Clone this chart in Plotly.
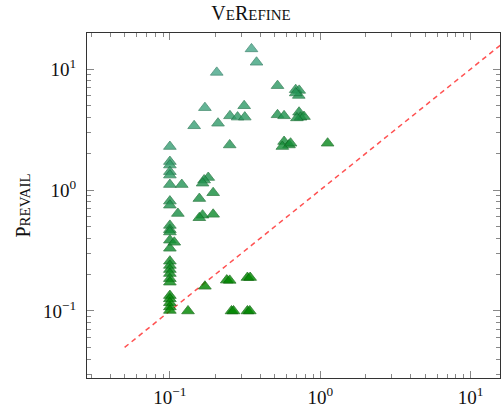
import numpy as np
import plotly.graph_objects as go

# VeRefine runtime (x) vs Prevail runtime (y), seconds
x_vals = [
    0.1, 0.1, 0.1, 0.1, 0.1, 0.1, 0.1, 0.1, 0.1, 0.1, 0.1, 0.1, 0.1,
    0.1, 0.1, 0.1, 0.1, 0.1, 0.1, 0.1, 0.1, 0.1, 0.1, 0.1,
    0.12, 0.113, 0.107, 0.145, 0.171, 0.209, 0.205, 0.25,
    0.18, 0.169, 0.165, 0.194, 0.157, 0.165, 0.157, 0.194,
    0.171, 0.239, 0.25, 0.328, 0.342, 0.132, 0.257, 0.265, 0.328, 0.34,
    0.349, 0.377, 0.52, 0.687, 0.725, 0.72, 0.687, 0.312,
    0.251, 0.282, 0.315, 0.52, 0.575, 0.723, 0.74, 0.78, 0.70,
    0.575, 0.62, 0.56, 0.635, 1.12,
]
y_vals = [
    2.29, 1.72, 1.61, 1.42, 1.33, 1.11, 0.81, 0.75, 0.51, 0.47, 0.45, 0.385, 0.33,
    0.258, 0.238, 0.22, 0.204, 0.185, 0.173, 0.134, 0.126, 0.117, 0.108, 0.101,
    1.11, 0.64, 0.37, 3.4, 4.8, 3.57, 9.4, 2.36,
    1.27, 1.21, 1.14, 0.95, 0.85, 0.62, 0.59, 0.63,
    0.16, 0.18, 0.179, 0.189, 0.189, 0.1, 0.1, 0.1, 0.1, 0.1,
    14.7, 11.4, 7.3, 6.76, 6.67, 6.06, 6.35, 4.98,
    4.11, 4.01, 4.01, 4.19, 4.11, 4.4, 4.0, 4.05, 3.95,
    2.52, 2.36, 2.29, 2.44, 2.44,
]
diag_vals = [0.05, 16]

x_tickvals = [0.1, 1, 10]
x_ticktext = ["10<sup>−1</sup>", "10<sup>0</sup>", "10<sup>1</sup>"]
y_tickvals = [0.1, 1, 10]
y_ticktext = ["10<sup>−1</sup>", "10<sup>0</sup>", "10<sup>1</sup>"]
minor_vals = [m * 10.0 ** e for e in range(-2, 2) for m in range(2, 10)]

ratio = np.log10(np.array(y_vals) / np.array(x_vals))

FONT = "Liberation Serif"

fig = go.Figure()
fig.add_trace(go.Scatter(
    x=diag_vals, y=diag_vals, mode="lines",
    line=dict(color="rgba(255,50,50,0.85)", width=1.5, dash="5px,4px"),
    hoverinfo="skip", showlegend=False,
))
fig.add_trace(go.Scatter(
    x=x_vals, y=y_vals, mode="markers",
    marker=dict(
        symbol="triangle-up", size=11, opacity=0.82,
        color=ratio, cmin=0, cmax=1.6,
        colorscale=[[0, "rgb(0,135,0)"], [0.5, "rgb(30,145,75)"], [1, "rgb(74,168,138)"]],
        line=dict(width=0.8, color=ratio, cmin=0, cmax=1.6,
                  colorscale=[[0, "rgb(0,95,0)"], [1, "rgb(40,120,95)"]]),
        showscale=False,
    ),
    showlegend=False,
))

axis_common = dict(
    type="log", showgrid=False, zeroline=False,
    showline=True, linecolor="#333", linewidth=1.3, mirror="allticks",
    ticks="inside", ticklen=7, tickcolor="#888", tickwidth=1,
    tickfont=dict(family=FONT, size=19, color="#111"),
    minor=dict(ticks="inside", ticklen=4, tickcolor="#888", tickvals=minor_vals, showgrid=False),
)

fig.update_xaxes(
    **axis_common,
    range=[np.log10(0.0281), np.log10(15.7)],
    tickvals=x_tickvals, ticktext=x_ticktext,
    ticklabelstandoff=2,
)
fig.update_yaxes(
    **axis_common,
    range=[np.log10(0.0279), np.log10(19.9)],
    tickvals=y_tickvals, ticktext=y_ticktext,
    ticklabelstandoff=6,
    title=dict(
        text="<span style='font-size:20px'>P</span>REVAIL",
        font=dict(family=FONT, size=15, color="#111"), standoff=8,
    ),
)

fig.update_layout(
    width=502, height=411,
    margin=dict(l=87, r=2, t=33, b=33),
    paper_bgcolor="white", plot_bgcolor="white",
    title=dict(
        text="<span style='font-size:20px'>V</span>E<span style='font-size:20px'>R</span>EFINE",
        font=dict(family=FONT, size=15, color="#111"),
        x=0.5, xref="container", xanchor="center",
        y=1 - 15 / 411, yref="container", yanchor="middle",
    ),
)

fig.write_html("out.html", config={"displayModeBar": False},
               post_script="document.body.style.margin='0px';")
